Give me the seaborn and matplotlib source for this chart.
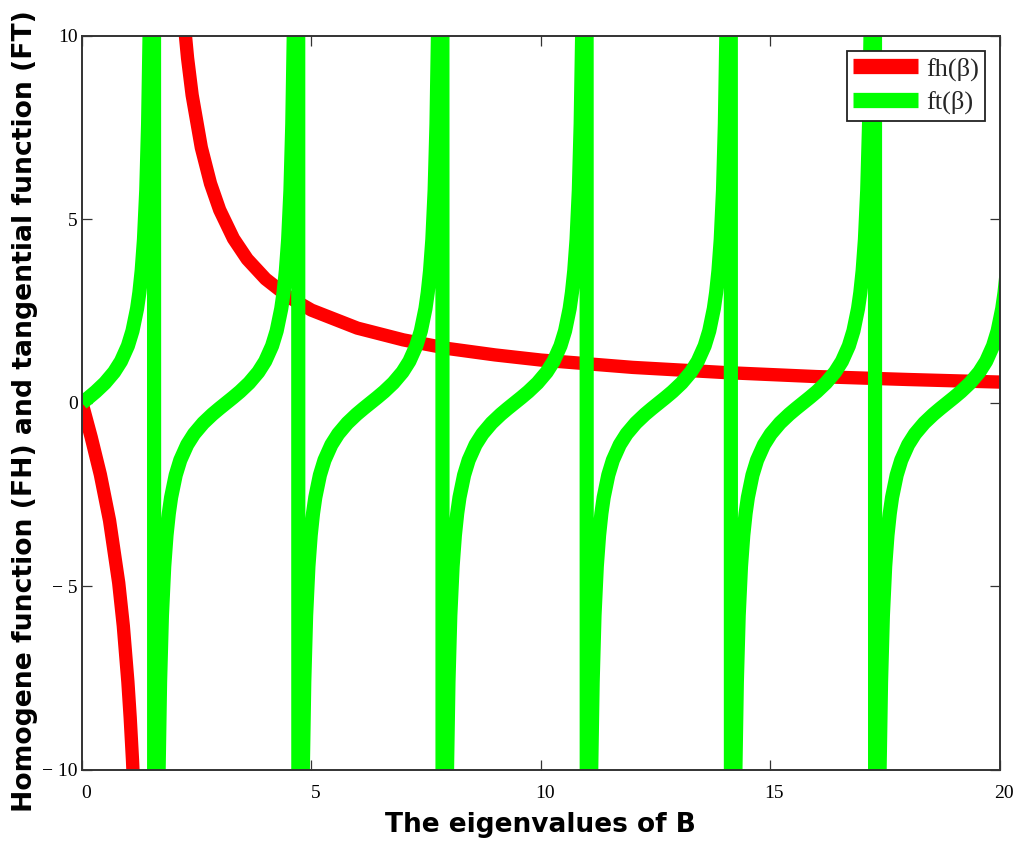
import matplotlib
matplotlib.use("Agg")
import matplotlib.pyplot as plt
import seaborn as sns
import pandas as pd
from matplotlib.lines import Line2D
from matplotlib.transforms import ScaledTranslation

# ---------------- data ----------------
# homogeneous function fh(beta): branch left of the pole
fh_lo_beta = [0.0, 0.2, 0.4, 0.6, 0.8, 0.9, 1.0, 1.05, 1.1, 1.15, 1.2]
fh_lo_val = [0.0, -0.93, -1.95, -3.20, -4.90, -6.07, -7.60, -8.57, -9.72, -11.13, -12.9]
# branch right of the pole
fh_hi_beta = [2.1, 2.2, 2.3, 2.4, 2.6, 2.8, 3.0, 3.3, 3.6, 4.0, 4.5, 5.0, 6.0,
              7.0, 8.0, 9.0, 10.0, 12.0, 14.0, 16.0, 18.0, 20.0]
fh_hi_val = [12.53, 10.72, 9.40, 8.39, 6.96, 5.98, 5.26, 4.48, 3.92, 3.38, 2.89,
             2.53, 2.04, 1.72, 1.48, 1.31, 1.17, 0.97, 0.83, 0.72, 0.64, 0.57]

# tangential function ft(beta): one period, read as offset from its zero
ft_offset = [0.0, 0.15, 0.3, 0.5, 0.7, 0.85, 1.0, 1.1, 1.2, 1.25, 1.3, 1.35,
             1.4, 1.44, 1.47, 1.5, 1.53, 1.55, 1.56]
ft_value = [0.0, 0.151, 0.309, 0.546, 0.842, 1.138, 1.557, 1.965, 2.572, 3.010,
            3.602, 4.455, 5.798, 7.602, 9.888, 14.10, 24.50, 48.08, 92.62]
# zeros of ft (centre of each branch)
ft_zero = [0.0, 3.1416, 6.2832, 9.4248, 12.5664, 15.7080, 18.8496]

x_ticks = [0, 5, 10, 15, 20]
x_ticklabels = ["0", "5", "10", "15", "20"]
y_ticks = [-10, -5, 0, 5, 10]
y_ticklabels = ["\u2212 10", "\u2212 5", "0", "5", "10"]

legend_labels = ["fh(\u03b2)", "ft(\u03b2)"]
x_label = "The eigenvalues of B"
y_label = "Homogene function (FH) and tangential function (FT)"

# ---------------- tables ----------------
fh_df = pd.DataFrame({
    "beta": fh_lo_beta + fh_hi_beta,
    "val": fh_lo_val + fh_hi_val,
    "seg": [0] * len(fh_lo_beta) + [1] * len(fh_hi_beta),
})

ft_b, ft_v = [], []
for i, z in enumerate(ft_zero):
    if i > 0:
        for d, v in zip(ft_offset[::-1][:-1], ft_value[::-1][:-1]):
            ft_b.append(z - d)
            ft_v.append(-v)
    for d, v in zip(ft_offset, ft_value):
        ft_b.append(z + d)
        ft_v.append(v)
ft_df = pd.DataFrame({"beta": ft_b, "val": ft_v})

# ---------------- plot ----------------
sns.set_style("ticks")
plt.rcParams["font.family"] = ["DejaVu Sans"]

fig = plt.figure(figsize=(10.16, 8.43), dpi=100)
ax = fig.add_axes([0.0807, 0.0866, 0.9035, 0.8707])

RED = "#ff0000"
GREEN = "#00ff00"
LW_R = 9.6
LW_G = 10.2

for s, sub in fh_df.groupby("seg"):
    sns.lineplot(data=sub, x="beta", y="val", sort=False, estimator=None,
                 color=RED, lw=LW_R, solid_capstyle="butt", ax=ax)
sns.lineplot(data=ft_df, x="beta", y="val", sort=False, estimator=None,
             color=GREEN, lw=LW_G, solid_capstyle="butt", ax=ax)

ax.set_xlim(0, 20)
ax.set_ylim(-10, 10)
ax.set_xticks(x_ticks)
ax.set_xticklabels(x_ticklabels, fontfamily="Liberation Serif", fontsize=14)
ax.set_yticks(y_ticks)
ax.set_yticklabels(y_ticklabels, fontfamily="Liberation Serif", fontsize=14)
ax.tick_params(direction="in", length=7.2, width=0.9, top=True, right=True,
               color="#333333", labelcolor="black")
ax.tick_params(axis="x", pad=10.5)
ax.tick_params(axis="y", pad=3)
for lab in ax.get_xticklabels():
    lab.set_transform(lab.get_transform() + ScaledTranslation(4 / 100, 0, fig.dpi_scale_trans))

for sp in ax.spines.values():
    sp.set_color("#333333")
    sp.set_linewidth(1.4)
    sp.set_visible(True)

ax.set_xlabel(x_label, fontsize=19, fontweight="bold", color="black")
ax.xaxis.set_label_coords(0.499, -0.0749)
ax.xaxis.label.set_va("center")
ax.set_ylabel(y_label, fontsize=19.2, fontweight="bold", color="black")
ax.yaxis.set_label_coords(-0.0621, 0.4884)
ax.yaxis.label.set_va("center")

handles = [Line2D([], [], color=RED, lw=11, solid_capstyle="butt"),
           Line2D([], [], color=GREEN, lw=11, solid_capstyle="butt")]
leg = ax.legend(handles, legend_labels, loc="upper right",
                bbox_to_anchor=(0.9837, 0.9796), borderaxespad=0,
                prop={"family": "Liberation Serif", "size": 19},
                handlelength=2.45, handletextpad=0.3, borderpad=0.235,
                labelspacing=0.36, frameon=True, fancybox=False,
                edgecolor="#222222", framealpha=1)
leg.get_frame().set_linewidth(1.3)

fig.savefig("out.png", dpi=100, facecolor="white")
